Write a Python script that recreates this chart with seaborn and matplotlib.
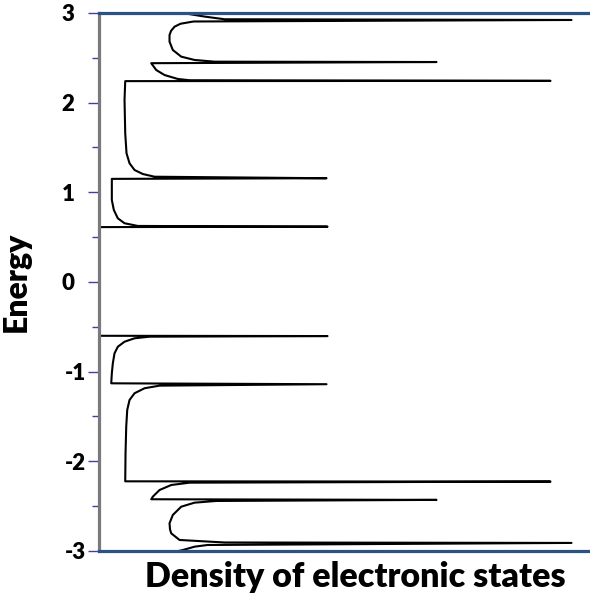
import matplotlib
matplotlib.use("Agg")
import matplotlib.pyplot as plt
import seaborn as sns
import pandas as pd
from matplotlib.ticker import FixedLocator, MultipleLocator

# Density-of-states trace (top to bottom)
energy = [3.0, 2.96, 2.93, 2.922, 2.905, 2.88, 2.847, 2.80, 2.754, 2.68, 2.587, 2.513, 2.476, 2.457,
          2.453, 2.44, 2.364, 2.308, 2.264, 2.25, 2.243, 2.240, 2.03, 1.658, 1.435, 1.324,
          1.249, 1.204, 1.174, 1.157, 1.150, 0.914, 0.803, 0.71, 0.655, 0.625, 0.617, 0.612,
          -0.600, -0.603, -0.61, -0.628, -0.666, -0.722, -0.795, -0.907, -1.018, -1.13,
          -1.14, -1.156, -1.185, -1.241, -1.316, -1.427, -1.614, -1.91, -2.223,
          -2.226, -2.238, -2.264, -2.32, -2.394, -2.423,
          -2.43, -2.442, -2.461, -2.506, -2.598, -2.691, -2.76, -2.803, -2.877, -2.905,
          -2.91, -2.933, -2.952, -2.989, -3.0]
dos = [0.84, 1.06, 1.26, 4.73, 0.95, 0.82, 0.76, 0.725, 0.71, 0.71, 0.743, 0.827, 0.96, 1.16,
       3.38, 0.527, 0.577, 0.66, 0.793, 0.91, 4.52, 0.267, 0.26, 0.267, 0.28, 0.31,
       0.36, 0.443, 0.56, 2.28, 0.133, 0.133, 0.153, 0.193, 0.26, 0.393, 2.29, 0.0,
       0.0, 2.29, 0.51, 0.36, 0.26, 0.193, 0.16, 0.143, 0.133, 0.127,
       2.28, 0.61, 0.46, 0.36, 0.31, 0.287, 0.277, 0.27, 0.267,
       4.52, 0.91, 0.727, 0.61, 0.543, 0.527,
       3.38, 1.177, 0.96, 0.827, 0.743, 0.71, 0.715, 0.727, 0.81, 1.26,
       4.73, 1.09, 0.96, 0.843, 0.80]

ytick_values = [3, 2, 1, 0, -1, -2, -3]
ytick_labels = ["3\u2002", "2\u2002", "1\u2002", "0\u2002", "-1", "-2", "-3"]
x_label = "Density of electronic states"
y_label = "Energy"

sns.set_theme(style="white")
plt.rcParams['font.family'] = ['Lato', 'DejaVu Sans']

fig = plt.figure(figsize=(5.9, 5.98), dpi=100)
ax = fig.add_axes([0.167, 0.0786, 0.833, 0.8997])

df = pd.DataFrame({"dos": dos, "energy": energy})
sns.lineplot(data=df, x="dos", y="energy", sort=False, estimator=None,
             color="black", lw=1.5, ax=ax, zorder=1)

ax.set_xlim(0, 4.915)
ax.set_ylim(-3, 3)

for s in ["top", "bottom"]:
    ax.spines[s].set_color("#2a5285")
    ax.spines[s].set_linewidth(2.3)
    ax.spines[s].set_zorder(3)
ax.spines["left"].set_color("#7a7a7a")
ax.spines["left"].set_linewidth(2.3)
ax.spines["left"].set_zorder(3)
ax.spines["right"].set_visible(False)

ax.set_xticks([])
ax.yaxis.set_major_locator(FixedLocator(ytick_values))
ax.set_yticklabels(ytick_labels)
for lbl in ax.get_yticklabels():
    lbl.set_fontsize(16)
    lbl.set_fontweight("heavy")
    lbl.set_color("black")
ax.yaxis.set_minor_locator(MultipleLocator(0.5))
ax.tick_params(axis="y", which="major", left=True, direction="out", length=7.6,
               width=1.0, color="#3f3fa0", pad=1.5)
ax.tick_params(axis="y", which="minor", left=True, direction="out", length=4.7,
               width=1.0, color="#3f3fa0")

ax.set_ylabel(y_label, fontsize=23, fontweight="heavy", color="black")
ax.yaxis.set_label_coords(-0.137, 0.5)
ax.set_xlabel(x_label, fontsize=24.5, fontweight="heavy", color="black")
ax.xaxis.set_label_coords(0.523, -0.018)

fig.savefig("out.png", dpi=100)
